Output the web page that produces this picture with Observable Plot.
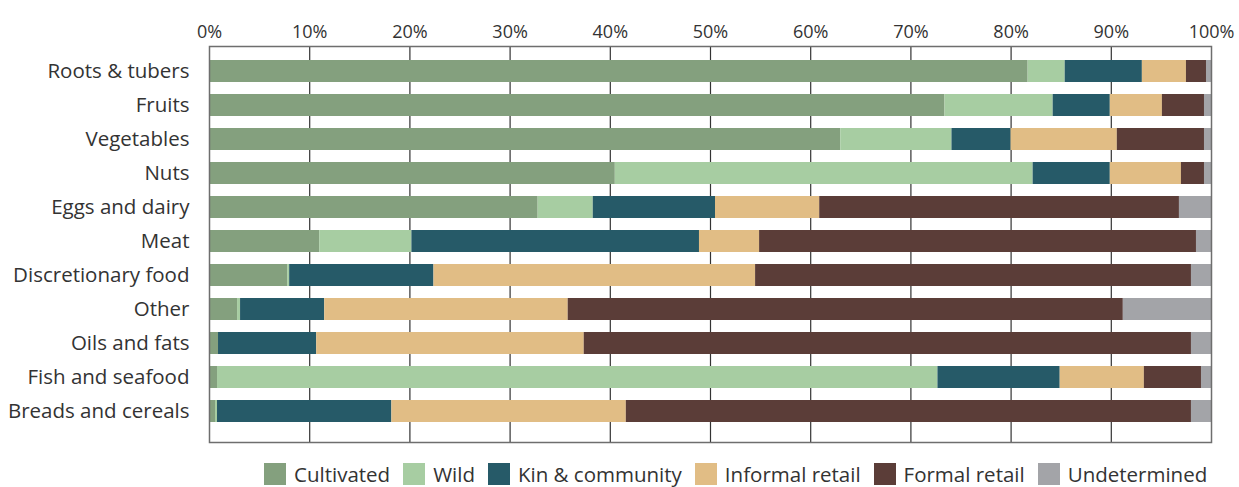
<!DOCTYPE html>
<html>
<head>
<meta charset="utf-8">
<script src="https://cdn.jsdelivr.net/npm/d3@7"></script>
<script src="https://cdn.jsdelivr.net/npm/@observablehq/plot@0.6"></script>
<style>
  body { margin: 0; background: #fff; font-family: "Open Sans", sans-serif; }
  #chart svg { display: block; }
  #legend { display: flex; align-items: center; margin-left: 264px; margin-top: 13px; font-size: 20.5px; color: #333; }
  .item { display: flex; align-items: center; margin-right: 13px; }
  .sw { width: 22px; height: 22px; margin-right: 8px; }
</style>
</head>
<body>
<div id="chart"></div>
<div id="legend"></div>
<script>
const categories = ["Roots & tubers", "Fruits", "Vegetables", "Nuts", "Eggs and dairy", "Meat", "Discretionary food", "Other", "Oils and fats", "Fish and seafood", "Breads and cereals"];
const sources = ["Cultivated", "Wild", "Kin & community", "Informal retail", "Formal retail", "Undetermined"];
const colors = ["#84a07e", "#a7cda2", "#265a68", "#e1bd85", "#5b3d38", "#a3a4a8"];
const cultivated   = [81.7, 73.4, 63.0, 40.5, 32.8, 11.0, 7.8, 2.8, 0.9, 0.8, 0.6];
const wild         = [3.7, 10.8, 11.1, 41.7, 5.5, 9.2, 0.2, 0.3, 0.0, 71.9, 0.2];
const kin          = [7.7, 5.7, 5.9, 7.7, 12.2, 28.7, 14.4, 8.4, 9.8, 12.2, 17.4];
const informal     = [4.4, 5.2, 10.6, 7.1, 10.4, 6.0, 32.1, 24.3, 26.7, 8.4, 23.4];
const formal       = [2.0, 4.2, 8.7, 2.3, 35.9, 43.6, 43.5, 55.4, 60.6, 5.7, 56.4];
const undetermined = [0.5, 0.7, 0.7, 0.7, 3.2, 1.5, 2.0, 8.8, 2.0, 1.0, 2.0];
const xTicks = [0, 10, 20, 30, 40, 50, 60, 70, 80, 90, 100];

const series = [cultivated, wild, kin, informal, formal, undetermined];
const data = [];
categories.forEach((c, i) => {
  sources.forEach((s, j) => data.push({category: c, source: s, value: series[j][i]}));
});

const chart = Plot.plot({
  width: 1239,
  height: 447,
  marginTop: 46,
  marginLeft: 209,
  marginRight: 28,
  marginBottom: 5,
  style: {fontFamily: "Open Sans, sans-serif", color: "#333"},
  x: {domain: [0, 100], axis: null},
  y: {domain: categories, range: [58, 425], paddingInner: 0.348, paddingOuter: 0, axis: null},
  color: {domain: sources, range: colors},
  marks: [
    Plot.ruleX(xTicks.slice(1, -1), {stroke: "#333", strokeWidth: 1.2}),
    Plot.barX(data, {x: "value", y: "category", fill: "source", order: null}),
    Plot.frame({stroke: "#6e6e6e", strokeWidth: 1.5}),
    Plot.axisX({anchor: "top", ticks: xTicks, tickSize: 0, tickPadding: 9, tickFormat: d => d + "%", fontSize: 18, fill: "#333", label: null}),
    Plot.axisY({anchor: "left", tickSize: 0, tickPadding: 20, fontSize: 20.5, fill: "#333", label: null})
  ]
});
document.getElementById("chart").appendChild(chart);

const legend = document.getElementById("legend");
sources.forEach((s, i) => {
  const it = document.createElement("div");
  it.className = "item";
  const sw = document.createElement("div");
  sw.className = "sw";
  sw.style.background = colors[i];
  const t = document.createElement("span");
  t.textContent = s;
  it.appendChild(sw);
  it.appendChild(t);
  legend.appendChild(it);
});
</script>
</body>
</html>
